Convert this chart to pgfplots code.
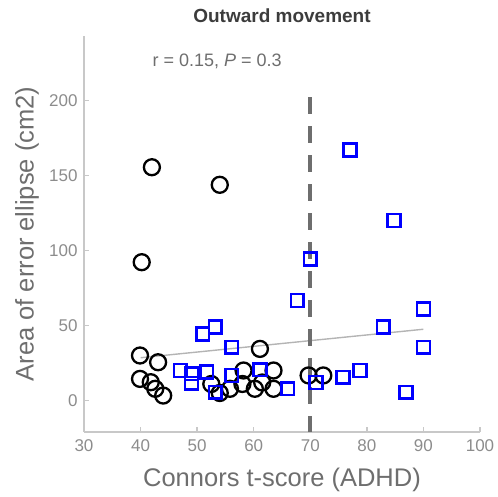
\documentclass[border=0pt]{standalone}
\usepackage{fontspec}
\setmainfont{Liberation Sans}
\usepackage{pgfplots}
\pgfplotsset{compat=1.18}
\definecolor{axgray}{RGB}{200,200,200}
\definecolor{tickgray}{RGB}{140,140,140}
\definecolor{labgray}{RGB}{110,110,110}
\definecolor{titlegray}{RGB}{60,60,60}
\definecolor{fitgray}{RGB}{180,180,180}
\definecolor{cutgray}{RGB}{110,110,110}
\begin{document}
\begin{tikzpicture}[x=1pt,y=1pt]
\useasboundingbox (0,0) rectangle (498,497);
\begin{axis}[
  at={(84pt,65pt)}, anchor=south west,
  scale only axis, width=396pt, height=396pt,
  xmin=30, xmax=100, ymin=-21, ymax=243,
  axis x line=bottom, axis y line=left,
  axis line style={axgray, line width=1.3pt, -},
  xtick={30,40,...,100}, ytick={0,50,...,200},
  tick align=inside, major tick length=5pt,
  tick style={axgray, line width=1.3pt},
  /pgf/number format/assume math mode=true,
  ticklabel style={font=\fontsize{17}{17}\selectfont, text=tickgray},
  xticklabel style={yshift=-4pt},
  yticklabel style={xshift=-3pt},
  xlabel={Connors t-score (ADHD)},
  ylabel={Area of error ellipse (cm2)},
  label style={font=\fontsize{25.5}{25.5}\selectfont, text=labgray},
  xlabel style={at={(axis description cs:0.5,0)}, anchor=center, yshift=-48pt},
  ylabel style={at={(axis description cs:0,0.5)}, anchor=center, yshift=57pt},
  title={\bfseries Outward movement},
  title style={font=\fontsize{19}{19}\selectfont, text=titlegray, at={(axis description cs:0.5,1)}, anchor=center, yshift=14pt},
  clip=false,
]
% regression fit
\addplot[fitgray, line width=1.4pt] coordinates {(40,28.5) (90,47.5)};
% clinical cut-off
\addplot[cutgray, line width=4pt, dash pattern=on 17pt off 12pt] coordinates {(70,202) (70,-21)};
% below cut-off group
\addplot[only marks, mark=o, mark size=8pt, black, line width=2.3pt] coordinates {
(42,155.5) (54,143.8) (40.2,92.2) (39.9,30) (43.1,25.5) (39.9,14.4)
(41.8,12.2) (42.6,7.8) (44,3.3) (52.5,11) (54,5) (55.8,7.8) (58.2,20)
(61.1,34.4) (63.5,20) (60.2,7.8) (63.5,7.8) (58,11) (61.5,12)
(69.7,16.7) (72.3,16.7)
};
% above cut-off group
\addplot[only marks, mark=square, mark size=6.4pt, blue, line width=2.5pt] coordinates {
(77,167) (84.8,120) (70,94.4) (67.7,66.7) (90,61) (82.9,48.9) (53.2,48.9)
(51,44.4) (56.1,35.5) (90,35.5) (47,20) (49,17.8) (49,11.5) (51.7,19)
(53.2,5.5) (56.1,16.7) (61.1,20.5) (66,7.8) (71,12) (75.8,15.5)
(78.8,20) (86.9,5.5)
};
\node[anchor=west, font=\fontsize{18}{18}\selectfont, text=labgray] at (axis cs:41.5,226) {r = 0.15, \textit{P} = 0.3};
\end{axis}
\end{tikzpicture}
\end{document}
